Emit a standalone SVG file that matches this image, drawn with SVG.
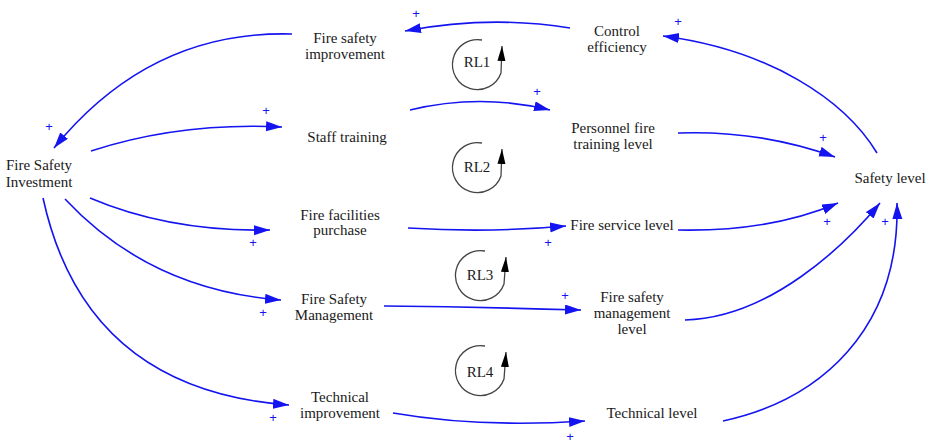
<svg xmlns="http://www.w3.org/2000/svg" width="931" height="445" viewBox="0 0 931 445">
  <defs>
    <marker id="arrow" markerUnits="userSpaceOnUse" markerWidth="17" markerHeight="11" refX="16" refY="5" orient="auto">
      <path d="M0,0 L16,5 L0,10 z" fill="#1414f0"/>
    </marker>
    <marker id="loopArrow" markerUnits="userSpaceOnUse" markerWidth="16" markerHeight="9" refX="15" refY="4" orient="auto">
      <path d="M0,0 L15,4 L0,8 z" fill="#000"/>
    </marker>
    <style>
      .lbl { font-family: "Liberation Serif", "Times New Roman", serif; font-size: 15px; fill: #1a1a1a; text-anchor: middle; }
      .link { fill: none; stroke: #1414f0; stroke-width: 1.6; marker-end: url(#arrow); }
      .plus { font-family: "Liberation Sans", Arial, sans-serif; font-size: 13px; fill: #1414f0; text-anchor: middle; }
      .loop { fill: none; stroke: #444; stroke-width: 1.3; marker-end: url(#loopArrow); }
    </style>
  </defs>
  <rect width="931" height="445" fill="#fff"/>

  <!-- causal links -->
  <g id="connectors">
    <path class="link" d="M570,28 Q490,15 405,31"/>
    <path class="link" d="M877,153 C845,100 770,50 663,36"/>
    <path class="link" d="M292,34 Q150,30 54,148"/>
    <path class="link" d="M91,151 Q180,122 282,127"/>
    <path class="link" d="M410,110 Q480,93 550,110"/>
    <path class="link" d="M678,133 Q760,130 835,157"/>
    <path class="link" d="M90,198 Q170,232 270,230"/>
    <path class="link" d="M408,228 Q490,233 566,226"/>
    <path class="link" d="M678,230 Q770,232 838,203"/>
    <path class="link" d="M65,199 Q150,290 281,300"/>
    <path class="link" d="M384,306 Q480,307 581,310"/>
    <path class="link" d="M685,320 C770,318 845,245 880,203"/>
    <path class="link" d="M43,198 Q85,390 289,405"/>
    <path class="link" d="M393,413 Q480,428 585,421"/>
    <path class="link" d="M723,421 C820,400 900,330 897,203"/>
  </g>

  <!-- polarity signs -->
  <g id="polarities">
    <text class="plus" x="416" y="18">+</text>
    <text class="plus" x="678" y="26">+</text>
    <text class="plus" x="49" y="131">+</text>
    <text class="plus" x="266" y="115">+</text>
    <text class="plus" x="537" y="96">+</text>
    <text class="plus" x="823" y="142">+</text>
    <text class="plus" x="253" y="247">+</text>
    <text class="plus" x="548" y="247">+</text>
    <text class="plus" x="827" y="226">+</text>
    <text class="plus" x="263" y="317">+</text>
    <text class="plus" x="565" y="300">+</text>
    <text class="plus" x="885" y="226">+</text>
    <text class="plus" x="273" y="422">+</text>
    <text class="plus" x="570" y="441">+</text>
  </g>

  <!-- reinforcing loops: open circle turning back up into an arrowhead -->
  <g id="RL1">
    <path class="loop" d="M482,40 A25,25 0 1 0 501,73 L502,46"/>
    <text class="lbl" x="477" y="67">RL1</text>
  </g>
  <g id="RL2">
    <path class="loop" d="M482,143 A25,25 0 1 0 501,176 L502,149"/>
    <text class="lbl" x="477" y="172">RL2</text>
  </g>
  <g id="RL3">
    <path class="loop" d="M485,251 A25,25 0 1 0 504,284 L506,257"/>
    <text class="lbl" x="480" y="280">RL3</text>
  </g>
  <g id="RL4">
    <path class="loop" d="M485,346 A25,25 0 1 0 504,379 L506,352"/>
    <text class="lbl" x="480" y="377">RL4</text>
  </g>

  <!-- variables -->
  <g id="fire-safety-investment">
    <text class="lbl" x="39" y="170">Fire Safety</text>
    <text class="lbl" x="39" y="187">Investment</text>
  </g>
  <g id="fire-safety-improvement">
    <text class="lbl" x="345" y="43">Fire safety</text>
    <text class="lbl" x="345" y="59">improvement</text>
  </g>
  <g id="control-efficiency">
    <text class="lbl" x="617" y="36">Control</text>
    <text class="lbl" x="617" y="52">efficiency</text>
  </g>
  <g id="staff-training">
    <text class="lbl" x="347" y="142">Staff training</text>
  </g>
  <g id="personnel-fire-training-level">
    <text class="lbl" x="613" y="133">Personnel fire</text>
    <text class="lbl" x="613" y="149">training level</text>
  </g>
  <g id="safety-level">
    <text class="lbl" x="890" y="183">Safety level</text>
  </g>
  <g id="fire-facilities-purchase">
    <text class="lbl" x="340" y="220">Fire facilities</text>
    <text class="lbl" x="340" y="235">purchase</text>
  </g>
  <g id="fire-service-level">
    <text class="lbl" x="622" y="230">Fire service level</text>
  </g>
  <g id="fire-safety-management">
    <text class="lbl" x="334" y="304">Fire Safety</text>
    <text class="lbl" x="334" y="320">Management</text>
  </g>
  <g id="fire-safety-management-level">
    <text class="lbl" x="632" y="302">Fire safety</text>
    <text class="lbl" x="632" y="318">management</text>
    <text class="lbl" x="632" y="334">level</text>
  </g>
  <g id="technical-improvement">
    <text class="lbl" x="340" y="402">Technical</text>
    <text class="lbl" x="340" y="418">improvement</text>
  </g>
  <g id="technical-level">
    <text class="lbl" x="652" y="418">Technical level</text>
  </g>
</svg>
